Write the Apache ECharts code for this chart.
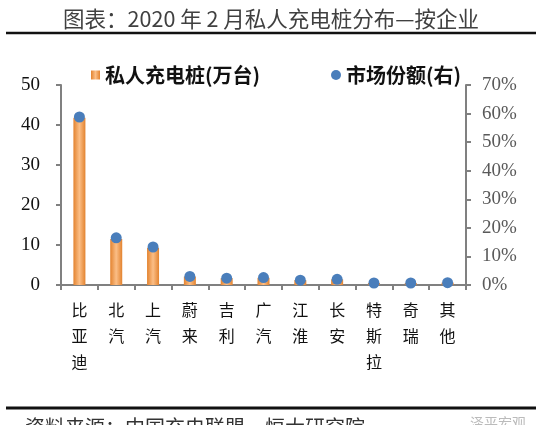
<!DOCTYPE html>
<html>
<head>
<meta charset="utf-8">
<script src="https://cdn.jsdelivr.net/npm/echarts@6/dist/echarts.min.js"></script>
<style>
html,body{margin:0;padding:0;background:#fff;}
#chart{width:542px;height:425px;}
</style>
</head>
<body>
<div id="chart"></div>
<script>
// ---- data ----
var categories = ['比亚迪','北汽','上汽','蔚来','吉利','广汽','江淮','长安','特斯拉','奇瑞','其他'];
var chargers = [41.8, 11.5, 9.3, 2.1, 1.7, 1.8, 1.2, 1.4, 0.5, 0.5, 0.6];   // 万台
var share = [0.588, 0.165, 0.133, 0.030, 0.024, 0.026, 0.017, 0.020, 0.007, 0.007, 0.008];
var leftTicks = [0, 10, 20, 30, 40, 50];
var rightTicks = [0, 0.1, 0.2, 0.3, 0.4, 0.5, 0.6, 0.7];
var seriesNames = ['私人充电桩(万台)', '市场份额(右)'];
var titleText = '图表：2020 年 2 月私人充电桩分布—按企业';
var sourceText = '资料来源：中国充电联盟，恒大研究院';

var chart = echarts.init(document.getElementById('chart'));
var serif = '"Liberation Serif","Times New Roman","Noto Sans CJK SC",serif';
var cjk = '"Noto Sans CJK SC",sans-serif';
var axisGray = '#808080';

var option = {
  backgroundColor: '#fff',
  animation: false,
  title: {
    text: titleText,
    left: 'center',
    top: 3,
    textStyle: { fontSize: 21.5, fontWeight: 'normal', color: '#404040', fontFamily: cjk }
  },
  graphic: [
    { type: 'line', shape: { x1: 6, y1: 33, x2: 536, y2: 33 }, style: { stroke: '#111', lineWidth: 2.5 } },
    { type: 'line', shape: { x1: 6, y1: 408, x2: 536, y2: 408 }, style: { stroke: '#111', lineWidth: 3 } },
    { type: 'text', left: 25, top: 417, style: { text: sourceText, fontSize: 20, fill: '#333', fontFamily: cjk } },
    { type: 'text', left: 470, top: 416, style: { text: '泽平宏观', fontSize: 14, fill: '#bbb', fontFamily: cjk } }
  ],
  legend: [
    {
      data: [seriesNames[0]], left: 86, top: 60, itemWidth: 9, itemHeight: 9, itemGap: 6,
      icon: 'rect',
      textStyle: { fontSize: 20, fontWeight: 'bold', color: '#111', fontFamily: cjk }
    },
    {
      data: [seriesNames[1]], left: 326, top: 60, itemWidth: 10, itemHeight: 10,
      icon: 'circle',
      textStyle: { fontSize: 20, fontWeight: 'bold', color: '#111', fontFamily: cjk }
    }
  ],
  grid: { left: 61, right: 76, top: 85, bottom: 140 },
  xAxis: {
    type: 'category',
    data: categories,
    axisLine: { lineStyle: { color: axisGray, width: 2 } },
    axisTick: { show: true, alignWithLabel: false, length: 5, lineStyle: { color: axisGray, width: 2 } },
    axisLabel: {
      margin: 12,
      interval: 0,
      fontSize: 16,
      lineHeight: 26,
      color: '#111',
      fontFamily: cjk,
      formatter: function (v) { return v.split('').join('\n'); }
    }
  },
  yAxis: [
    {
      type: 'value', min: leftTicks[0], max: leftTicks[leftTicks.length - 1], interval: 10,
      axisLine: { show: true, lineStyle: { color: axisGray, width: 2 } },
      axisTick: { show: true, length: 5, lineStyle: { color: axisGray, width: 2 } },
      splitLine: { show: false },
      axisLabel: { margin: 21, fontSize: 19, color: '#111', fontFamily: serif }
    },
    {
      type: 'value', min: rightTicks[0], max: rightTicks[rightTicks.length - 1], interval: 0.1,
      position: 'right',
      axisLine: { show: true, lineStyle: { color: axisGray, width: 2 } },
      axisTick: { show: true, length: 5, lineStyle: { color: axisGray, width: 2 } },
      splitLine: { show: false },
      axisLabel: {
        margin: 16, fontSize: 19, color: '#595959', fontFamily: serif,
        formatter: function (v) { return Math.round(v * 100) + '%'; }
      }
    }
  ],
  series: [
    {
      name: seriesNames[0],
      type: 'bar',
      data: chargers,
      barWidth: 12,
      itemStyle: {
        color: new echarts.graphic.LinearGradient(0, 0, 1, 0, [
          { offset: 0, color: '#E3832F' },
          { offset: 0.5, color: '#FBBE86' },
          { offset: 1, color: '#E3832F' }
        ])
      }
    },
    {
      name: seriesNames[1],
      type: 'scatter',
      yAxisIndex: 1,
      data: share,
      symbol: 'circle',
      symbolSize: 11,
      itemStyle: { color: '#4A7EBB', opacity: 1 }
    }
  ]
};
chart.setOption(option);
</script>
</body>
</html>
